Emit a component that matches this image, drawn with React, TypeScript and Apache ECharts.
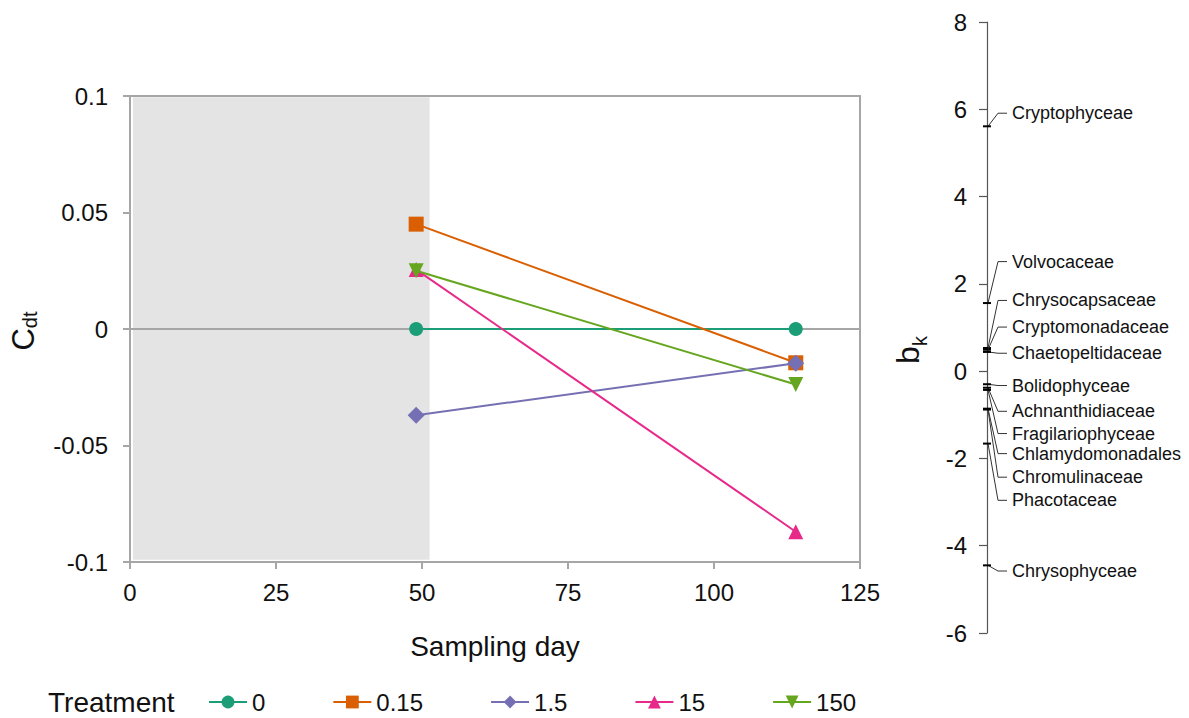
import React, { useEffect, useRef } from "react";
import * as echarts from "echarts";

const FONT = '"Liberation Sans", Arial, sans-serif';

// Sampling days (x) and principal response values C_dt per treatment
const days = [49, 114];
const treatments = ["0", "0.15", "1.5", "15", "150"];
const cdtT0 = [0, 0];
const cdtT015 = [0.045, -0.0145];
const cdtT1_5 = [-0.037, -0.0147];
const cdtT15 = [0.0255, -0.087];
const cdtT150 = [0.025, -0.0238];
const treatmentValues = [cdtT0, cdtT015, cdtT1_5, cdtT15, cdtT150];
const colors = ["#1b9e77", "#d95f02", "#7570b3", "#e7298a", "#66a61e"];
const symbols = ["circle", "rect", "diamond", "triangle", "path://M0,0L10,0L5,9Z"];

// Axis ranges
const xRange = [0, 125, 25];
const yRange = [-0.1, 0.1, 0.05];
const bkRange = [-6, 8, 2];
// Pre-treatment shaded period (days)
const shadedDays = [0.5, 51.3];

// Species weights b_k and where their labels sit (in b_k units)
const species = [
  "Cryptophyceae",
  "Volvocaceae",
  "Chrysocapsaceae",
  "Cryptomonadaceae",
  "Chaetopeltidaceae",
  "Bolidophyceae",
  "Achnanthidiaceae",
  "Fragilariophyceae",
  "Chlamydomonadales",
  "Chromulinaceae",
  "Phacotaceae",
  "Chrysophyceae",
];
const speciesWeights = [5.61, 1.56, 0.53, 0.49, 0.44, -0.3, -0.38, -0.43, -0.86, -0.88, -1.66, -4.45];
const labelAnchors = [5.91, 2.51, 1.62, 1.01, 0.41, -0.33, -0.92, -1.43, -1.89, -2.43, -2.96, -4.58];

export default function App() {
  const ref = useRef<HTMLDivElement>(null);
  useEffect(() => {
    if (!ref.current) return;
    const chart = echarts.init(ref.current, null, { renderer: "svg" });
    const axisGray = "#a6a6a6";
    const option: any = {
      animation: false,
      backgroundColor: "#ffffff",
      textStyle: { fontFamily: FONT },
      grid: [
        { left: 130, top: 96, width: 730, height: 466, show: true, borderColor: axisGray, borderWidth: 2, backgroundColor: "transparent" },
        { left: 987, top: 22, width: 190, height: 611 },
      ],
      xAxis: [
        {
          gridIndex: 0,
          type: "value",
          min: xRange[0],
          max: xRange[1],
          interval: xRange[2],
          name: "Sampling day",
          nameLocation: "middle",
          nameGap: 70,
          nameTextStyle: { fontSize: 28, color: "#111", fontFamily: FONT },
          axisLine: { show: true, onZero: false, lineStyle: { color: axisGray, width: 2 } },
          axisTick: { show: true, length: 7, lineStyle: { color: axisGray, width: 2 } },
          axisLabel: { fontSize: 24, color: "#111", margin: 18, fontFamily: FONT },
          splitLine: { show: false },
        },
        { gridIndex: 1, type: "value", min: 0, max: 19, show: false },
      ],
      yAxis: [
        {
          gridIndex: 0,
          type: "value",
          min: yRange[0],
          max: yRange[1],
          interval: yRange[2],
          axisLine: { show: true, onZero: false, lineStyle: { color: axisGray, width: 2 } },
          axisTick: { show: true, length: 7, lineStyle: { color: axisGray, width: 2 } },
          axisLabel: { fontSize: 24, color: "#111", margin: 22, fontFamily: FONT },
          splitLine: { show: false },
        },
        {
          gridIndex: 1,
          type: "value",
          min: bkRange[0],
          max: bkRange[1],
          interval: bkRange[2],
          axisLine: { show: true, onZero: false, lineStyle: { color: "#555", width: 1.2 } },
          axisTick: { show: true, length: 8, lineStyle: { color: "#555", width: 1.2 } },
          axisLabel: { fontSize: 24, color: "#111", margin: 20, fontFamily: FONT },
          splitLine: { show: false },
        },
      ],
      legend: {
        data: treatments,
        left: 203,
        top: 685,
        itemWidth: 38,
        itemHeight: 16,
        itemGap: 67,
        textStyle: { fontSize: 24, color: "#111", fontFamily: FONT },
      },
      graphic: [
        {
          type: "text",
          left: 48,
          top: 688,
          style: { text: "Treatment", font: `28px ${FONT}`, fill: "#111" },
        },
        {
          type: "text",
          x: 23,
          y: 331,
          rotation: Math.PI / 2,
          style: {
            text: "{c|C}{s|dt}",
            align: "center",
            verticalAlign: "middle",
            rich: {
              c: { fontSize: 31, fontFamily: FONT, fill: "#111", lineHeight: 34 },
              s: { fontSize: 20, fontFamily: FONT, fill: "#111", verticalAlign: "bottom", lineHeight: 22 },
            },
          },
        },
        {
          type: "text",
          x: 908,
          y: 350,
          rotation: Math.PI / 2,
          style: {
            text: "{c|b}{s|k}",
            align: "center",
            verticalAlign: "middle",
            rich: {
              c: { fontSize: 32, fontFamily: FONT, fill: "#111", lineHeight: 44 },
              s: { fontSize: 20, fontFamily: FONT, fill: "#111", verticalAlign: "bottom", lineHeight: 22 },
            },
          },
        },
      ],
      series: [
        {
          type: "line",
          name: "_background",
          xAxisIndex: 0,
          yAxisIndex: 0,
          data: [],
          z: 1,
          silent: true,
          markArea: {
            silent: true,
            z: 1,
            itemStyle: { color: "#e4e4e4" },
            data: [[{ xAxis: shadedDays[0], yAxis: 0.0995 }, { xAxis: shadedDays[1], yAxis: -0.099 }]],
          },
          markLine: {
            silent: true,
            z: 1,
            symbol: "none",
            label: { show: false },
            lineStyle: { color: axisGray, width: 2, type: "solid" },
            data: [{ yAxis: 0 }],
          },
        },
        ...treatments.map((t, i) => ({
          type: "line",
          name: t,
          xAxisIndex: 0,
          yAxisIndex: 0,
          z: 3 + i,
          data: days.map((d, j) => [d, treatmentValues[i][j]]),
          symbol: symbols[i],
          symbolSize: i === 0 ? 14 : i === 2 ? 17 : 15,
          showAllSymbol: true,
          lineStyle: { color: colors[i], width: 2 },
          itemStyle: { color: colors[i] },
        })),
        {
          type: "custom",
          name: "species",
          xAxisIndex: 1,
          yAxisIndex: 1,
          clip: false,
          z: 5,
          data: speciesWeights.map((w, i) => [0, w, labelAnchors[i]]),
          encode: { x: 0, y: 1 },
          renderItem: (params: any, api: any) => {
            const p = api.coord([0, api.value(1)]);
            const q = api.coord([0, api.value(2)]);
            const name = species[params.dataIndex];
            return {
              type: "group",
              children: [
                {
                  type: "polyline",
                  shape: { points: [[p[0] + 1, p[1]], [p[0] + 11, q[1]], [p[0] + 20, q[1]]] },
                  style: { stroke: "#333", lineWidth: 1, fill: null },
                },
                {
                  type: "line",
                  shape: { x1: p[0] - 4, y1: p[1], x2: p[0] + 4, y2: p[1] },
                  style: { stroke: "#000", lineWidth: 2 },
                },
                {
                  type: "text",
                  x: p[0] + 25,
                  y: q[1],
                  style: { text: name, font: `18px ${FONT}`, fill: "#111", verticalAlign: "middle", align: "left" },
                },
              ],
            };
          },
        },
      ],
    };
    chart.setOption(option);
    return () => chart.dispose();
  }, []);
  return (
    <div
      ref={ref}
      style={{ position: "fixed", left: 0, top: 0, width: 1189, height: 718, background: "#fff" }}
    />
  );
}
